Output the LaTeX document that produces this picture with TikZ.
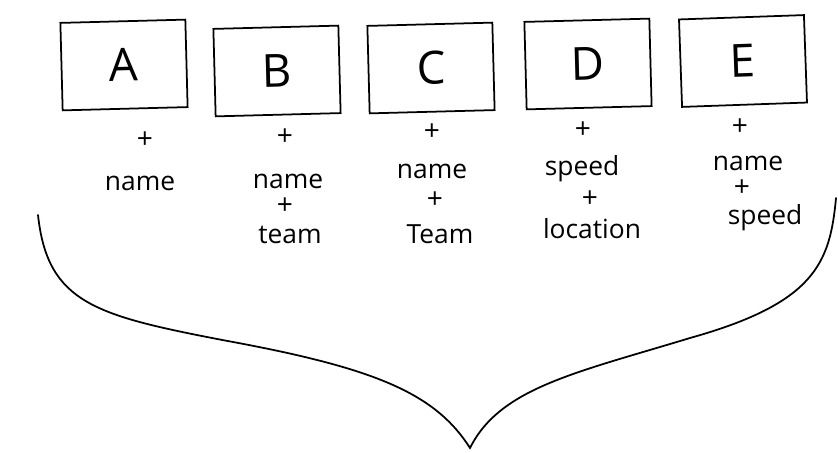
\documentclass[tikz,border=0pt]{standalone}
\usepackage{fontspec}
\setmainfont{Open Sans}
\usepackage{tikz}
\usetikzlibrary{positioning}

\begin{document}
\begin{tikzpicture}[
  line width=1pt,
  card/.style={draw, minimum width=2.5cm, minimum height=1.75cm, inner sep=0pt, font=\fontsize{26}{28}\selectfont},
  attr/.style={font=\fontsize{15}{17}\selectfont, inner sep=0pt},
  plus/.style={font=\fontsize{16}{18}\selectfont, inner sep=0pt}
]
\useasboundingbox (0,0) rectangle (16.76,9.06);
% the five objects
\foreach \l/\x/\y/\r in {A/2.48/7.76/1.5, B/5.54/7.64/1.5, C/8.62/7.70/1.5, D/11.76/7.78/1.5, E/14.86/7.84/2} {
  \node[card, rotate=\r] (box\l) at (\x,\y) {\l};
}

% what each one carries
\node[plus] (pA1) at (2.9,6.26) {+};
\node[attr] (nA1) at (2.8,5.40) {name};

\node[plus] (pB1) at (5.7,6.32) {+};
\node[attr] (nB1) at (5.76,5.44) {name};
\node[plus] (pB2) at (5.7,4.94) {+};
\node[attr] (nB2) at (5.8,4.36) {team};

\node[plus] (pC1) at (8.64,6.42) {+};
\node[attr] (nC1) at (8.64,5.64) {name};
\node[plus] (pC2) at (8.7,5.06) {+};
\node[attr] (nC2) at (8.8,4.38) {Team};

\node[plus] (pD1) at (11.66,6.46) {+};
\node[attr] (nD1) at (11.64,5.68) {speed};
\node[plus] (pD2) at (11.8,5.08) {+};
\node[attr] (nD2) at (11.84,4.48) {location};

\node[plus] (pE1) at (14.8,6.52) {+};
\node[attr] (nE1) at (14.96,5.80) {name};
\node[plus] (pE2) at (14.84,5.30) {+};
\node[attr] (nE2) at (15.3,4.70) {speed};

% big brace under everything
\coordinate (braceL) at (0.76,4.76);
\coordinate (braceTip) at (9.4,0.1);
\coordinate (braceR) at (16.72,5.1);
\draw[line cap=round, line join=miter] (braceL) .. controls (0.95,3.0) and (1.9,2.75) .. (4.5,2.25)
  .. controls (7.5,1.7) and (8.7,1.2) .. (braceTip)
  .. controls (10.0,1.3) and (11.5,1.6) .. (13.8,2.3)
  .. controls (16.3,3.0) and (16.6,3.8) .. (braceR);
\end{tikzpicture}
\end{document}
